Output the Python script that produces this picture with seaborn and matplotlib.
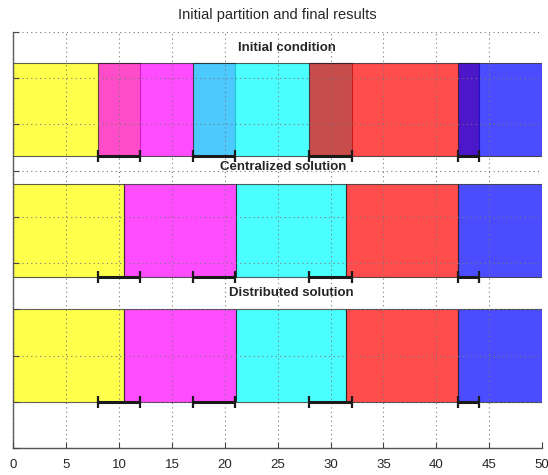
import numpy as np
import matplotlib
matplotlib.use('Agg')
import matplotlib.pyplot as plt
import seaborn as sns

# partition data
colors = ['#ffff00', '#ff00ff', '#00ffff', '#ff0000', '#0000ff']
initial_left = [0, 8, 17, 28, 42]
initial_right = [12, 21, 32, 44, 50]
central_bounds = [0, 10.5, 21.1, 31.5, 42, 50]
distributed_bounds = [0, 10.5, 21.1, 31.5, 42, 50]

# overlap / uncertainty intervals drawn as black bars
overlap_lo = [8, 17, 28, 42]
overlap_hi = [12, 21, 32, 44]

row_names = ['Initial condition', 'Centralized solution', 'Distributed solution']
row_bottom = [6.32, 3.70, 1.0]
row_label_x = [25.9, 25.5, 26.3]
row_label_y = [8.65, 6.07, 3.35]
band_height = 2.0

sns.set_theme(style='white')
plt.rcParams['font.family'] = ['Liberation Sans', 'DejaVu Sans']

fig = plt.figure(figsize=(5.48, 4.75), dpi=100)
ax = fig.add_axes([0.0243, 0.0568, 0.965, 0.876])

rows = [
    (initial_left, initial_right),
    (central_bounds[:-1], central_bounds[1:]),
    (distributed_bounds[:-1], distributed_bounds[1:]),
]

for (lefts, rights), bottom in zip(rows, row_bottom):
    for l, r, c in zip(lefts, rights, colors):
        ax.barh(bottom + band_height / 2, r - l, left=l, height=band_height,
                color=c, alpha=0.7, edgecolor='k', linewidth=0.8, zorder=1)

lo = np.array(overlap_lo, dtype=float)
hi = np.array(overlap_hi, dtype=float)
for bottom in row_bottom:
    ax.errorbar((lo + hi) / 2, np.full(len(lo), bottom), xerr=(hi - lo) / 2,
                fmt='none', ecolor='k', elinewidth=2.2, capsize=4.3,
                capthick=1.6, zorder=4)

for name, x, y in zip(row_names, row_label_x, row_label_y):
    ax.text(x, y, name, ha='center', va='center', fontsize=9.5,
            fontweight='bold', zorder=5)

ax.set_xlim(0, 50)
ax.set_ylim(0, 9)
ax.set_xticks(np.arange(0, 51, 5))
ax.set_yticks(np.arange(0, 10, 1))
ax.set_yticklabels([])
ax.tick_params(axis='both', direction='in', length=4, width=0.8,
               color='#444444', labelsize=9.5, left=True, bottom=True)
ax.tick_params(axis='x', pad=8)

ax.grid(True, linestyle=(0, (1, 3)), color='#777777', linewidth=0.8)
ax.set_axisbelow(False)
for side in ['top', 'right']:
    ax.spines[side].set_visible(False)
for side in ['left', 'bottom']:
    ax.spines[side].set_color('#555555')
    ax.spines[side].set_linewidth(1.0)

ax.set_title('Initial partition and final results', fontsize=10.5, pad=9)

fig.savefig('out.png', dpi=100)
